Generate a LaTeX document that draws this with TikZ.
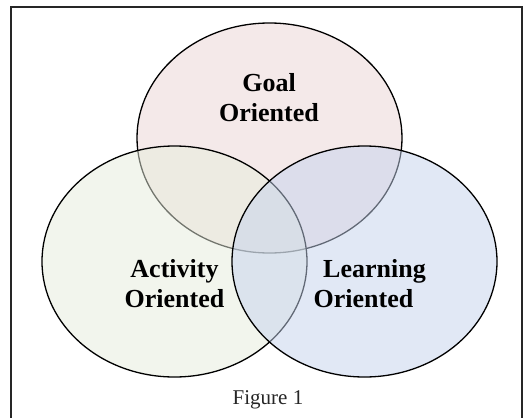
\documentclass[tikz,border=0pt]{standalone}
\usepackage{fontspec}
\setmainfont{Liberation Serif}
\begin{document}
\begin{tikzpicture}[x=1pt,y=-1pt,
  venn/.style={draw=black,line width=1.3pt,fill opacity=0.5,draw opacity=1},
  lbl/.style={font=\fontsize{26}{30}\selectfont\bfseries,align=center,text=black},
  figcaption/.style={font=\fontsize{21}{24}\selectfont,text=black!85}]
\useasboundingbox (0,0) rectangle (531,418);
\fill[white] (0,0) rectangle (531,418);
\draw[line width=1.5pt,black!85] (11,7) rectangle (522,430);
\draw[venn,fill={rgb,255:red,235;green,213;blue,213}] (269.5,138) ellipse [x radius=132.5,y radius=115];
\draw[venn,fill={rgb,255:red,231;green,237;blue,221}] (174.5,261.5) ellipse [x radius=132.5,y radius=115.5];
\draw[venn,fill={rgb,255:red,197;green,211;blue,237}] (364.5,261.5) ellipse [x radius=132.5,y radius=115.5];
\node[lbl] (goal) at (269,98) {Goal\\Oriented};
\node[lbl] (act) at (174.5,284) {Activity\\Oriented};
\node[lbl] (learn) at (363.5,284) {\hspace*{22pt}Learning\\Oriented};
\node[figcaption,anchor=base] (fig) at (268,404) {Figure 1};
\end{tikzpicture}
\end{document}
